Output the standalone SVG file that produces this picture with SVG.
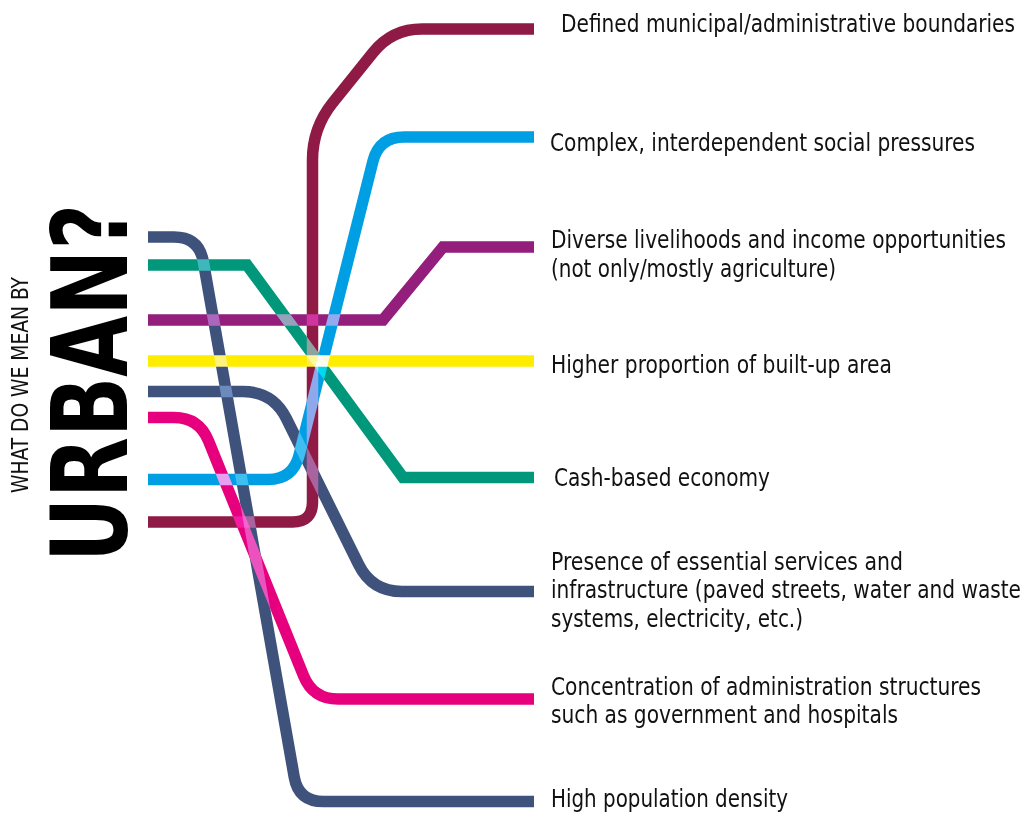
<svg xmlns="http://www.w3.org/2000/svg" width="1030" height="816" viewBox="0 0 1030 816">
  <style>
    .ln { fill: none; stroke-width: 11.5; stroke-linecap: butt; stroke-linejoin: miter; mix-blend-mode: screen; }
    .lbl { font-family: "Liberation Sans Narrow", "DejaVu Sans Condensed", "Roboto Condensed", "Liberation Sans", sans-serif; font-stretch: condensed; font-size: 24px; fill: #111; }
    .title-sm { font-family: "Liberation Sans Narrow", "DejaVu Sans Condensed", "Roboto Condensed", "Liberation Sans", sans-serif; font-stretch: condensed; font-size: 23px; fill: #111; }
    .title-lg { font-family: "Liberation Sans Narrow", "DejaVu Sans Condensed", "Roboto Condensed", "Liberation Sans", sans-serif; font-stretch: condensed; font-weight: bold; font-size: 106px; fill: #000; }
  </style>
  <rect width="1030" height="816" fill="#fff"/>

  <!-- Title, set vertically -->
  <g id="title">
    <text class="title-sm" transform="translate(28.3,493) rotate(-90)" textLength="216" lengthAdjust="spacingAndGlyphs">WHAT DO WE MEAN BY</text>
    <text class="title-lg" transform="translate(127,562) rotate(-90)" textLength="358" lengthAdjust="spacingAndGlyphs">URBAN?</text>
  </g>

  <!-- Coloured lines, blended with screen where they cross -->
  <g id="connectors" style="isolation:isolate">
    <path id="line-boundaries" class="ln" stroke="#8e1a45" d="M148,522 L292.5,522 Q312.5,522 312.5,502 L312.5,160 Q312.5,128 332.5,103 L373.2,52.4 Q392,29 422,29 L534,29"/>
    <path id="line-social" class="ln" stroke="#009fe3" d="M148,479.5 L268,479.5 Q293,479.5 299.1,455.2 L372.9,161.3 Q379,137 404,137 L534,137"/>
    <path id="line-livelihoods" class="ln" stroke="#931e7c" d="M148,320 L383,320 L443,247 L534,247"/>
    <path id="line-builtup" class="ln" stroke="#ffed00" d="M148,361 L534,361"/>
    <path id="line-cash" class="ln" stroke="#00977b" d="M148,265 L247,265 L403,477.5 L534,477.5"/>
    <path id="line-services" class="ln" stroke="#3e527c" d="M148,391.5 L243,391.5 Q273,391.5 286.3,418.4 L358.7,564.6 Q372,591.5 402,591.5 L534,591.5"/>
    <path id="line-admin" class="ln" stroke="#e6007e" d="M148,417.5 L174,417.5 Q199,417.5 208.4,440.7 L303.6,675.8 Q313,699 338,699 L534,699"/>
    <path id="line-density" class="ln" stroke="#3e527c" d="M148,237 L174,237 Q199,237 203.3,261.6 L294.2,776.9 Q298.5,801.5 323.5,801.5 L534,801.5"/>
  </g>

  <!-- Labels -->
  <g id="label-boundaries">
    <text class="lbl" x="561" y="32" textLength="454" lengthAdjust="spacingAndGlyphs">Defined municipal/administrative boundaries</text>
  </g>
  <g id="label-social">
    <text class="lbl" x="550" y="151" textLength="425" lengthAdjust="spacingAndGlyphs">Complex, interdependent social pressures</text>
  </g>
  <g id="label-livelihoods">
    <text class="lbl" x="551" y="248" textLength="455" lengthAdjust="spacingAndGlyphs">Diverse livelihoods and income opportunities</text>
    <text class="lbl" x="551" y="277" textLength="285" lengthAdjust="spacingAndGlyphs">(not only/mostly agriculture)</text>
  </g>
  <g id="label-builtup">
    <text class="lbl" x="551" y="373" textLength="341" lengthAdjust="spacingAndGlyphs">Higher proportion of built-up area</text>
  </g>
  <g id="label-cash">
    <text class="lbl" x="554" y="486" textLength="216" lengthAdjust="spacingAndGlyphs">Cash-based economy</text>
  </g>
  <g id="label-services">
    <text class="lbl" x="551" y="570" textLength="352" lengthAdjust="spacingAndGlyphs">Presence of essential services and</text>
    <text class="lbl" x="551" y="598" textLength="470" lengthAdjust="spacingAndGlyphs">infrastructure (paved streets, water and waste</text>
    <text class="lbl" x="551" y="627" textLength="252" lengthAdjust="spacingAndGlyphs">systems, electricity, etc.)</text>
  </g>
  <g id="label-admin">
    <text class="lbl" x="551" y="695" textLength="430" lengthAdjust="spacingAndGlyphs">Concentration of administration structures</text>
    <text class="lbl" x="551" y="723" textLength="347" lengthAdjust="spacingAndGlyphs">such as government and hospitals</text>
  </g>
  <g id="label-density">
    <text class="lbl" x="551" y="807" textLength="237" lengthAdjust="spacingAndGlyphs">High population density</text>
  </g>
</svg>
